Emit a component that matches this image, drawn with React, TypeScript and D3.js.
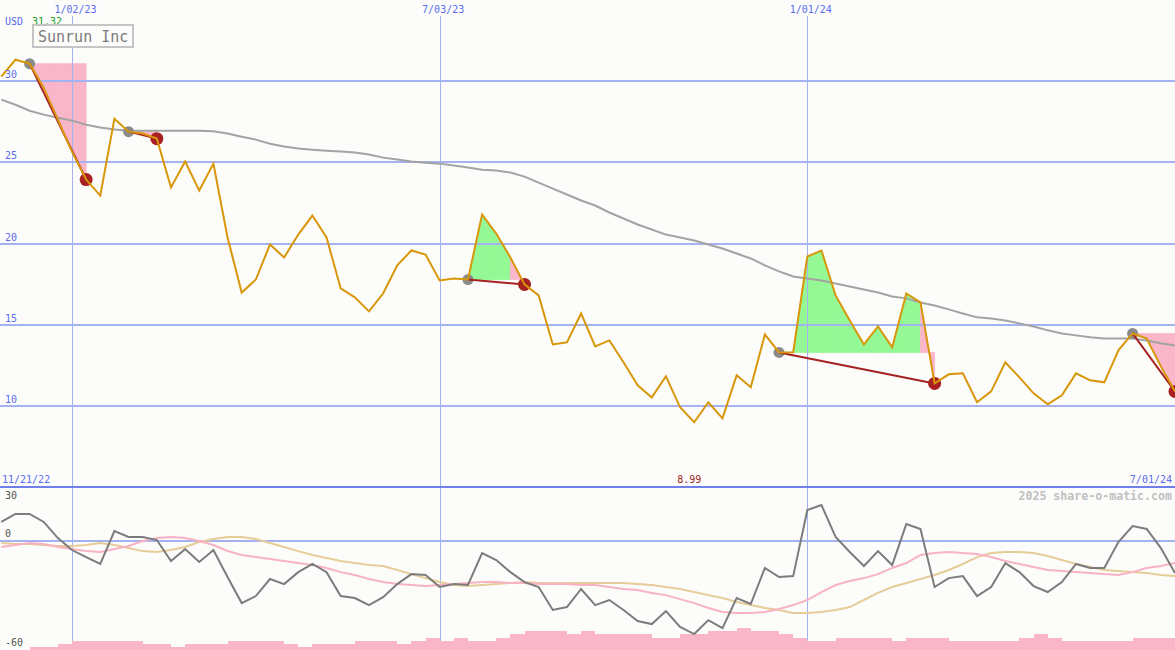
import React from "react";
import * as d3 from "d3";

const W = 1175;
const H = 650;

// weekly closes (USD), weeks starting Monday 11/28/22 .. 7/01/24
const price = [30.28,31.32,31.08,29.60,27.63,25.66,23.94,22.95,27.69,26.89,
26.77,26.46,23.45,25.05,23.26,24.92,20.37,16.98,17.78,19.94,
19.14,20.55,21.72,20.37,17.23,16.68,15.82,16.92,18.65,19.57,
19.32,17.72,17.85,17.78,21.78,20.62,19.14,17.48,16.80,13.78,
13.91,15.69,13.66,14.03,12.68,11.26,10.52,11.82,9.91,8.99,
10.22,9.23,11.88,11.14,14.40,13.29,13.30,19.20,19.57,16.80,
15.26,13.78,14.89,13.60,16.92,16.37,11.38,11.94,12.00,10.22,
10.89,12.68,11.75,10.77,10.09,10.65,12.00,11.57,11.45,13.42,
14.46,14.15,12.43,10.89];

const movingAvg = [28.86,28.55,28.18,27.94,27.75,27.57,27.32,27.14,27.02,26.95,
26.95,26.95,26.95,26.95,26.95,26.92,26.77,26.58,26.40,26.15,
25.97,25.85,25.78,25.72,25.66,25.60,25.48,25.29,25.17,25.05,
24.98,24.92,24.80,24.68,24.55,24.49,24.37,24.12,23.75,23.38,
23.02,22.65,22.34,21.91,21.54,21.17,20.86,20.55,20.37,20.18,
19.94,19.69,19.38,19.08,18.65,18.28,17.97,17.85,17.72,17.54,
17.35,17.17,16.98,16.74,16.62,16.37,16.18,15.94,15.69,15.45,
15.38,15.26,15.08,14.89,14.65,14.46,14.34,14.22,14.15,14.15,
14.15,14.03,13.85,13.72];

const oscillator = [10.7,15.1,15.1,10.7,1.8,-4.8,-8.7,-12.5,5.7,2.4,
2.4,0.7,-10.9,-4.3,-11.4,-4.8,-19.7,-34.1,-30.2,-20.8,
-23.6,-17.0,-12.5,-17.0,-30.2,-31.3,-35.2,-30.8,-23.6,-18.1,
-18.6,-25.2,-23.6,-24.1,-6.5,-10.3,-17.0,-22.5,-25.2,-37.9,
-36.3,-26.3,-35.2,-32.4,-37.9,-44.0,-45.7,-38.5,-47.3,-51.2,
-43.5,-47.9,-31.3,-34.6,-14.7,-19.7,-19.2,17.3,20.0,2.4,
-5.9,-13.6,-5.4,-13.1,9.6,6.8,-25.2,-20.3,-19.2,-30.2,
-25.2,-12.0,-17.0,-24.7,-28.0,-22.5,-12.5,-14.7,-14.7,-0.4,
8.4,6.8,-3.7,-17.5];

const oscPink = [-3.1,-2.0,-0.9,-1.5,-3.1,-4.2,-5.3,-5.9,-4.2,-2.6,
0.2,1.8,2.4,1.8,0.2,-2.0,-5.3,-7.5,-8.7,-9.8,
-10.9,-12.0,-13.1,-14.7,-17.0,-18.6,-20.8,-22.5,-23.6,-24.1,
-24.7,-24.1,-23.6,-23.0,-22.5,-22.5,-23.0,-23.0,-23.6,-23.6,
-23.6,-24.1,-24.1,-25.2,-26.3,-26.9,-28.5,-29.7,-31.9,-34.1,
-36.8,-39.0,-39.6,-39.6,-39.0,-37.4,-35.2,-32.4,-28.0,-24.1,
-21.9,-20.3,-18.1,-14.7,-12.0,-7.5,-6.5,-5.9,-6.5,-7.0,
-8.7,-10.9,-12.5,-14.2,-15.8,-16.4,-17.0,-17.5,-18.1,-18.6,
-17.0,-14.7,-13.6,-12.0];

const oscTan = [-0.9,-1.5,-1.5,-2.0,-2.6,-2.6,-2.0,-0.9,-2.0,-3.7,
-5.4,-5.9,-4.8,-3.1,-0.4,1.3,2.4,2.4,1.3,-0.9,
-3.1,-5.4,-7.5,-9.2,-10.9,-12.0,-13.1,-13.6,-15.8,-18.1,
-20.3,-22.5,-24.1,-24.7,-24.1,-23.6,-23.0,-22.5,-23.0,-23.0,
-23.0,-23.0,-23.0,-23.0,-23.0,-23.6,-24.1,-25.2,-26.3,-28.0,
-29.7,-31.3,-33.5,-35.2,-36.8,-37.9,-39.6,-39.6,-39.0,-37.9,
-36.3,-32.4,-28.5,-25.2,-23.0,-20.8,-18.6,-15.8,-12.5,-8.7,
-6.5,-5.9,-5.9,-6.5,-8.1,-10.3,-12.5,-14.2,-15.8,-16.4,
-17.0,-17.5,-18.6,-19.2];

// weekly volume (millions), bar k spans week k .. week k+1
const volume = [0,0,3,3,6,9,9,9,9,9,
6,6,3,6,6,6,9,9,9,9,
6,3,6,6,6,9,9,9,6,9,
12,9,12,9,9,12,16,19,19,19,
16,19,16,16,16,16,12,12,16,16,
19,19,22,19,19,16,12,9,9,12,
12,12,12,9,12,12,12,9,9,9,
9,9,12,16,12,9,9,9,9,9,
12,12,12];

// trades: entry / exit week indices
const tradeEntries = [2, 9, 33, 55, 80];
const tradeExits = [6, 11, 37, 66, 83];

const priceTicks = [10, 15, 20, 25, 30];
const oscTicks = [30, 0, -60];
const dateTicks = [new Date(2023, 0, 2), new Date(2023, 6, 3), new Date(2024, 0, 1)];

const dates = d3.timeMonday.range(new Date(2022, 10, 28), new Date(2024, 6, 2));

const BLUE_TXT = "#5a6cf0";
const GRID = "#a4b2f2";
const FONT = "'DejaVu Sans Mono', monospace";

export default function App() {
  const x = d3.scaleTime().domain([new Date(2023, 0, 2), new Date(2024, 6, 1)]).range([72, 1175]);
  const y = d3.scaleLinear().domain([5, 35]).range([487, 0]);
  const yL = d3.scaleLinear().domain([-60, 30]).range([650, 487]);
  const yV = d3.scaleLinear().domain([0, 100]).range([650, 550]);
  const fmt = d3.timeFormat("%-m/%d/%y");

  const xi = (i: number) => x(dates[i]);
  const priceLine = d3.line<number>().x((_, i) => xi(i)).y((d) => y(d))(price) || "";
  const maLine = d3.line<number>().x((_, i) => xi(i)).y((d) => y(d))(movingAvg) || "";
  const lowLine = (arr: number[]) => d3.line<number>().x((_, i) => xi(i)).y((d) => yL(d))(arr) || "";

  const fills: { pts: [number, number][]; color: string }[] = [];
  tradeEntries.forEach((en, t) => {
    const ex = tradeExits[t];
    const e = price[en];
    for (let k = en; k < ex; k++) {
      fills.push({
        pts: [
          [xi(k), y(e)],
          [xi(k), y(price[k])],
          [xi(k + 1), y(price[k + 1])],
          [xi(k + 1), y(e)],
        ],
        color: price[k + 1] >= e ? "#94f894" : "#f9b6c9",
      });
    }
  });

  const minIdx = d3.minIndex(price);
  const maxVal = d3.max(price) as number;

  return (
    <svg width={W} height={H} style={{ position: "absolute", left: 0, top: 0, display: "block" }} fontFamily={FONT}>
      <rect x={0} y={0} width={W} height={H} fill="#fcfdfa" />

      {/* trade fills */}
      {fills.map((f, i) => (
        <polygon key={"f" + i} points={f.pts.map((p) => p.join(",")).join(" ")} fill={f.color} stroke={f.color} strokeWidth={0.8} />
      ))}

      {/* horizontal grid */}
      {priceTicks.map((v) => (
        <line key={"g" + v} x1={0} x2={W} y1={Math.round(y(v))} y2={Math.round(y(v))} stroke={GRID} strokeWidth={2} />
      ))}
      <line x1={0} x2={W} y1={Math.round(yL(0))} y2={Math.round(yL(0))} stroke={GRID} strokeWidth={2} />

      {/* vertical date lines */}
      {dateTicks.map((d, i) => (
        <line key={"v" + i} x1={Math.round(x(d)) + 0.5} x2={Math.round(x(d)) + 0.5} y1={16} y2={H} stroke={GRID} strokeWidth={1} />
      ))}

      {/* panel separator */}
      <line x1={0} x2={W} y1={487} y2={487} stroke="#6f80ea" strokeWidth={2} />

      {/* moving average */}
      <path d={maLine} fill="none" stroke="#a3a3a3" strokeWidth={2} />

      {/* trade markers */}
      {tradeEntries.map((en, t) => (
        <circle key={"ge" + t} cx={xi(en)} cy={y(price[en])} r={5.5} fill="#8a8a8a" />
      ))}
      {tradeExits.map((ex, t) => (
        <circle key={"re" + t} cx={xi(ex)} cy={y(price[ex])} r={6.5} fill="#a82020" />
      ))}
      {tradeEntries.map((en, t) => (
        <line key={"tl" + t} x1={xi(en)} y1={y(price[en])} x2={xi(tradeExits[t])} y2={y(price[tradeExits[t]])} stroke="#a52222" strokeWidth={2} />
      ))}

      {/* price line */}
      <path d={priceLine} fill="none" stroke="#d8960a" strokeWidth={2} strokeLinejoin="miter" />

      {/* lower panel */}
      {volume.map((v, k) => {
        const x0 = Math.round(xi(k));
        const x1 = Math.round(xi(k + 1));
        return (
          <rect key={"vb" + k} x={x0} y={Math.round(yV(v))} width={x1 - x0} height={650 - Math.round(yV(v))} fill="#f9b6c9" shapeRendering="crispEdges" />
        );
      })}
      <path d={lowLine(oscTan)} fill="none" stroke="#e6cc98" strokeWidth={2} />
      <path d={lowLine(oscPink)} fill="none" stroke="#f8b2c4" strokeWidth={2} />
      <path d={lowLine(oscillator)} fill="none" stroke="#7c7c7c" strokeWidth={2} />

      {/* price axis labels */}
      {priceTicks.map((v) => (
        <text key={"t" + v} x={5} y={Math.round(y(v)) - 3} fontSize={10} fill={BLUE_TXT}>{v}</text>
      ))}
      <text x={5} y={499} fontSize={10} fill="#555">{oscTicks[0]}</text>
      <text x={5} y={537} fontSize={10} fill="#555">{oscTicks[1]}</text>
      <text x={5} y={646} fontSize={10} fill="#555">{oscTicks[2]}</text>

      {/* date labels */}
      {dateTicks.map((d, i) => (
        <text key={"dl" + i} x={x(d) + 3.5} y={13} fontSize={10} fill={BLUE_TXT} textAnchor="middle">{fmt(d)}</text>
      ))}
      <text x={2} y={483} fontSize={10} fill={BLUE_TXT}>{fmt(new Date(2022, 10, 21))}</text>
      <text x={1172} y={483} fontSize={10} fill={BLUE_TXT} textAnchor="end">{fmt(dates[dates.length - 1])}</text>
      <text x={xi(minIdx) - 5} y={483} fontSize={10} fill="#a02020" textAnchor="middle">{price[minIdx].toFixed(2)}</text>

      <text x={5} y={25} fontSize={10} fill={BLUE_TXT}>USD</text>
      <text x={32} y={25} fontSize={10} fill="#1a9a1a">{maxVal.toFixed(2)}</text>

      <rect x={33} y={25} width={100} height={22} fill="#fcfdfa" stroke="#c4c4c4" strokeWidth={2} />
      <text x={38} y={42} fontSize={15} fill="#7a7a7a">Sunrun Inc</text>

      <text x={1172} y={500} fontSize={11.6} fontWeight="bold" fill="#c0c0c0" textAnchor="end">2025 share-o-matic.com</text>
    </svg>
  );
}
